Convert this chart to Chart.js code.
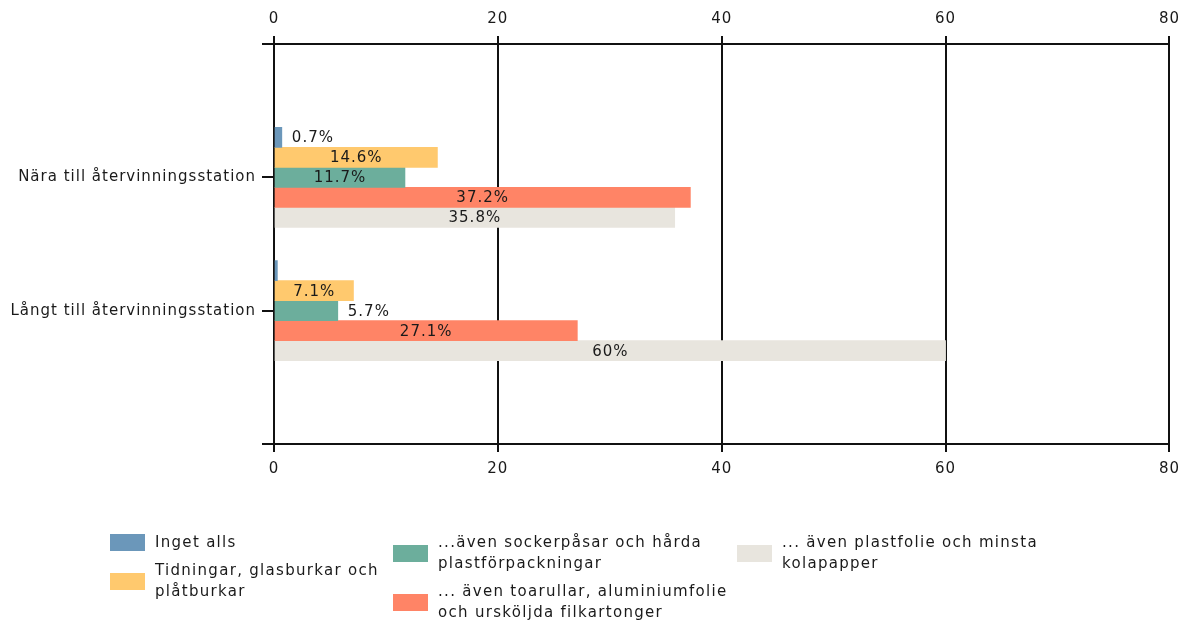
<!DOCTYPE html>
<html>
<head>
<meta charset="utf-8">
<script src="https://cdn.jsdelivr.net/npm/chart.js@4.4.0/dist/chart.umd.min.js"></script>
<style>
  html, body { margin: 0; padding: 0; background: #fff; }
  #wrap { position: relative; width: 1188px; height: 628px; }
  #c { position: absolute; left: 0; top: 0; }
  #legend { position: absolute; left: 0; top: 0; width: 1188px; height: 628px; pointer-events: none;
    font-family: "DejaVu Sans", sans-serif; font-size: 15px; letter-spacing: 1.3px; color: #1a1a1a; }
  .col { position: absolute; top: 532px; display: flex; flex-direction: column; gap: 7px; }
  .item { display: flex; align-items: center; }
  .box { width: 35px; height: 17px; flex: none; margin-right: 10px; }
  .txt { line-height: 21px; white-space: nowrap; }
</style>
</head>
<body>
<div id="wrap">
  <canvas id="c" width="1188" height="628"></canvas>
  <div id="legend"></div>
</div>
<script>
// ---- data ----
const categories = ['Nära till återvinningsstation', 'Långt till återvinningsstation'];
const seriesNames = [
  ['Inget alls'],
  ['Tidningar, glasburkar och', 'plåtburkar'],
  ['...även sockerpåsar och hårda', 'plastförpackningar'],
  ['... även toarullar, aluminiumfolie', 'och ursköljda filkartonger'],
  ['... även plastfolie och minsta', 'kolapapper']
];
const ingetAlls = [0.7, 0.3];
const tidningar = [14.6, 7.1];
const sockerpasar = [11.7, 5.7];
const toarullar = [37.2, 27.1];
const plastfolie = [35.8, 60];
const xTicks = [0, 20, 40, 60, 80];
const colors = ['#6b97ba', '#ffc96e', '#6cae9c', '#ff8466', '#e8e5de'];

// pad categories so that category ticks sit at inner positions
const labels = [''].concat(categories, ['']);
const pad = arr => [null].concat(arr, [null]);
const seriesValues = [ingetAlls, tidningar, sockerpasar, toarullar, plastfolie];

const FONT = '"DejaVu Sans", sans-serif';
const LS = '1px';
const TXT = '#1a1a1a';

const spacingPlugin = {
  id: 'spacing',
  beforeUpdate(chart) { chart.ctx.letterSpacing = LS; },
  beforeDraw(chart) { chart.ctx.letterSpacing = LS; }
};

const labelPlugin = {
  id: 'barLabels',
  afterDatasetsDraw(chart) {
    const ctx = chart.ctx;
    ctx.save();
    ctx.letterSpacing = LS;
    ctx.font = '15px ' + FONT;
    ctx.fillStyle = TXT;
    ctx.textBaseline = 'middle';
    chart.data.datasets.forEach((ds, di) => {
      const meta = chart.getDatasetMeta(di);
      meta.data.forEach((el, i) => {
        const v = ds.data[i];
        if (v == null || v < 0.5) return;
        const txt = v + '%';
        const w = ctx.measureText(txt).width;
        const bw = el.x - el.base;
        if (bw >= w + 24) {
          ctx.textAlign = 'center';
          ctx.fillText(txt, (el.x + el.base) / 2, el.y + 1);
        } else {
          ctx.textAlign = 'left';
          ctx.fillText(txt, el.x + 10, el.y + 1);
        }
      });
    });
    ctx.restore();
  }
};

const gridCol = '#111';
const xScale = (pos, onArea) => ({
  type: 'linear',
  position: pos,
  min: 0, max: 80,
  afterBuildTicks: s => { s.ticks = xTicks.map(v => ({ value: v })); },
  ticks: { color: TXT, font: { family: FONT, size: 15 }, padding: 8 },
  grid: { color: gridCol, lineWidth: 2, tickLength: 8, drawOnChartArea: onArea },
  border: { display: true, color: gridCol, width: 2 }
});

const chart = new Chart(document.getElementById('c'), {
  type: 'bar',
  data: {
    labels: labels,
    datasets: seriesValues.map((vals, i) => ({
      label: seriesNames[i],
      data: pad(vals),
      backgroundColor: colors[i],
      borderWidth: 0,
      barThickness: 20,
      xAxisID: 'x'
    }))
  },
  options: {
    indexAxis: 'y',
    responsive: false,
    animation: false,
    layout: { padding: { left: 0, right: 18, top: 0, bottom: 0 } },
    plugins: { legend: { display: false }, tooltip: { enabled: false } },
    scales: {
      x: Object.assign(xScale('bottom', true), { afterFit: s => { s.height = 184; } }),
      x2: Object.assign(xScale('top', false), { afterFit: s => { s.height = 44; } }),
      y: {
        type: 'category',
        offset: false,
        afterFit: s => { s.width = 274; },
        ticks: { color: TXT, font: { family: FONT, size: 15 }, padding: 6, autoSkip: false },
        grid: { offset: false, color: gridCol, lineWidth: 2, tickLength: 12, drawOnChartArea: false },
        border: { display: true, color: gridCol, width: 2 }
      }
    }
  },
  plugins: [spacingPlugin, labelPlugin]
});

// ---- HTML legend built from the datasets ----
const legendCols = [[0, 1], [2, 3], [4]];
const colLeft = [110, 393, 737];
const legendEl = document.getElementById('legend');
legendCols.forEach((idxs, ci) => {
  const col = document.createElement('div');
  col.className = 'col';
  col.style.left = colLeft[ci] + 'px';
  idxs.forEach(i => {
    const ds = chart.data.datasets[i];
    const item = document.createElement('div');
    item.className = 'item';
    const box = document.createElement('div');
    box.className = 'box';
    box.style.background = ds.backgroundColor;
    const t = document.createElement('div');
    t.className = 'txt';
    t.innerHTML = ds.label.join('<br>');
    item.appendChild(box);
    item.appendChild(t);
    col.appendChild(item);
  });
  legendEl.appendChild(col);
});
</script>
</body>
</html>
